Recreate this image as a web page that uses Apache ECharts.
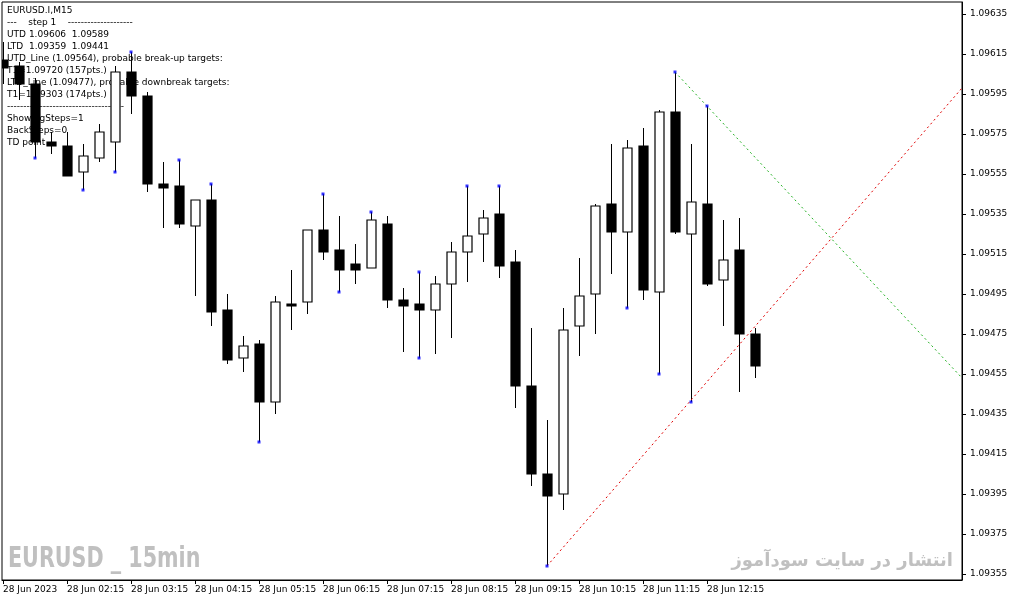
<!DOCTYPE html>
<html><head><meta charset="utf-8">
<script src="https://cdn.jsdelivr.net/npm/echarts@6/dist/echarts.min.js"></script>
<style>html,body{margin:0;padding:0;background:#fff}#c{width:1013px;height:604px}</style>
</head><body><div id="c"></div>
<script>
// OHLC per 15-min bar, starting 28 Jun 2023 01:15
const opens  = [1.09612,1.09609,1.09600,1.09571,1.09569,1.09556,1.09563,1.09571,1.09606,1.09594,1.09550,1.09549,1.09529,1.09542,1.09487,1.09463,1.09470,1.09441,1.09490,1.09491,1.09527,1.09517,1.09510,1.09508,1.09530,1.09492,1.09490,1.09487,1.09500,1.09516,1.09525,1.09535,1.09511,1.09449,1.09405,1.09395,1.09479,1.09495,1.09540,1.09526,1.09569,1.09496,1.09586,1.09525,1.09540,1.09502,1.09517,1.09475];
const highs  = [1.09621,1.09611,1.09603,1.09576,1.09576,1.09570,1.09580,1.09609,1.09616,1.09596,1.09561,1.09562,1.09542,1.09550,1.09495,1.09474,1.09472,1.09494,1.09507,1.09527,1.09545,1.09534,1.09520,1.09536,1.09534,1.09498,1.09506,1.09504,1.09521,1.09549,1.09537,1.09549,1.09517,1.09478,1.09432,1.09488,1.09513,1.09540,1.09570,1.09572,1.09578,1.09587,1.09606,1.09570,1.09589,1.09532,1.09533,1.09478];
const lows   = [1.09600,1.09592,1.09563,1.09565,1.09554,1.09547,1.09561,1.09556,1.09585,1.09546,1.09528,1.09528,1.09494,1.09479,1.09460,1.09456,1.09421,1.09435,1.09477,1.09485,1.09512,1.09496,1.09500,1.09508,1.09488,1.09466,1.09463,1.09465,1.09473,1.09501,1.09511,1.09503,1.09438,1.09399,1.09359,1.09387,1.09464,1.09475,1.09505,1.09488,1.09492,1.09455,1.09525,1.09441,1.09499,1.09479,1.09446,1.09453];
const closes = [1.09608,1.09600,1.09571,1.09569,1.09554,1.09564,1.09576,1.09606,1.09594,1.09550,1.09548,1.09530,1.09542,1.09486,1.09462,1.09469,1.09441,1.09491,1.09490,1.09527,1.09516,1.09507,1.09507,1.09532,1.09492,1.09489,1.09487,1.09500,1.09516,1.09524,1.09533,1.09509,1.09449,1.09405,1.09394,1.09477,1.09494,1.09539,1.09526,1.09568,1.09497,1.09586,1.09526,1.09541,1.09500,1.09512,1.09475,1.09459];
const timeLabels = ["28 Jun 2023","28 Jun 02:15","28 Jun 03:15","28 Jun 04:15","28 Jun 05:15","28 Jun 06:15","28 Jun 07:15","28 Jun 08:15","28 Jun 09:15","28 Jun 10:15","28 Jun 11:15","28 Jun 12:15"];
const priceTicks = [1.09355,1.09375,1.09395,1.09415,1.09435,1.09455,1.09475,1.09495,1.09515,1.09535,1.09555,1.09575,1.09595,1.09615,1.09635];
const fractalHighIdx = [8,11,13,20,23,26,29,31,42,44];
const fractalLowIdx = [2,5,7,16,21,26,34,39,41,43];
const redLine = [[34,1.09359],[59.94,1.09598]];
const greenLine = [[42,1.09606],[59.94,1.09453]];
const infoLines = ["EURUSD.I,M15","---    step 1    --------------------","UTD 1.09606  1.09589","LTD  1.09359  1.09441","UTD_Line (1.09564), probable break-up targets:","T1=1.09720 (157pts.)","LTD_Line (1.09477), probable downbreak targets:","T1=1.09303 (174pts.)","------------------------------------","ShowingSteps=1","BackSteps=0","TD point"];

const candleData = opens.map((o,i)=>[i,o,closes[i],lows[i],highs[i]]);
const fractals = fractalHighIdx.map(i=>[i,highs[i]]).concat(fractalLowIdx.map(i=>[i,lows[i]]));
const labelVals = timeLabels.map((_,i)=>i*4);

const chart = echarts.init(document.getElementById('c'));
const font = 'DejaVu Sans';
chart.setOption({
  animation:false,
  backgroundColor:'#fff',
  grid:{left:2,right:51,top:2,bottom:24,show:true,borderColor:'#000',borderWidth:1,backgroundColor:'#fff'},
  xAxis:{type:'value',min:-0.0625,max:59.9375,
    axisLine:{show:true,onZero:false,lineStyle:{color:'#000'}},splitLine:{show:false},
    axisTick:{show:true,customValues:labelVals,length:4,inside:false,lineStyle:{color:'#000'}},
    axisLabel:{customValues:labelVals,align:'left',margin:5,fontFamily:font,fontSize:9,color:'#000',
      formatter:v=>timeLabels[Math.round(v/4)]||''}},
  yAxis:{type:'value',position:'right',min:1.09352,max:1.09641,scale:true,
    axisLine:{show:true,onZero:false,lineStyle:{color:'#000'}},splitLine:{show:false},
    axisTick:{show:true,customValues:priceTicks,length:4,inside:false,lineStyle:{color:'#000'}},
    axisLabel:{customValues:priceTicks,margin:8,fontFamily:font,fontSize:9,color:'#000',formatter:v=>v.toFixed(5)}},
  series:[
    {type:'custom',data:candleData,encode:{x:0,y:[1,2,3,4]},clip:true,z:3,
      renderItem:(params,api)=>{
        const x=api.value(0),o=api.value(1),c=api.value(2),l=api.value(3),h=api.value(4);
        const po=api.coord([x,o]),pc=api.coord([x,c]),pl=api.coord([x,l]),ph=api.coord([x,h]);
        const cx=Math.round(po[0])+0.5, w=9;
        const top=Math.min(po[1],pc[1]), bot=Math.max(po[1],pc[1]);
        const bull=c>o;
        return {type:'group',children:[
          {type:'line',shape:{x1:cx,y1:ph[1],x2:cx,y2:pl[1]},style:{stroke:'#000',lineWidth:1}},
          {type:'rect',shape:{x:cx-w/2,y:top,width:w,height:Math.max(bot-top,2)},
           style:{fill:bull?'#fff':'#000',stroke:'#000',lineWidth:1.2}}
        ]};
      }},
    {type:'line',data:redLine,symbol:'none',z:3,lineStyle:{color:'#e00000',width:1,type:[2,3]}},
    {type:'line',data:greenLine,symbol:'none',z:3,lineStyle:{color:'#22b022',width:1,type:[2,3]}},
    {type:'scatter',data:fractals,symbol:'rect',symbolSize:3,itemStyle:{color:'#0000ff'},z:5}
  ],
  graphic:[
    {type:'text',left:7,top:5,z:1,style:{text:infoLines.join('\n'),font:'9px '+font,fill:'#000',lineHeight:12}},
    {type:'text',x:8,y:546,scaleX:0.82,z:1,style:{text:'EURUSD _ 15min',font:'bold 28px "DejaVu Sans Condensed"',fill:'#c0c0c0'}},
    {type:'text',right:60,top:552,z:1,style:{text:'انتشار در سایت سودآموز',font:'bold 18px "DejaVu Sans"',fill:'#c0c0c0'}}
  ]
});
</script></body></html>
